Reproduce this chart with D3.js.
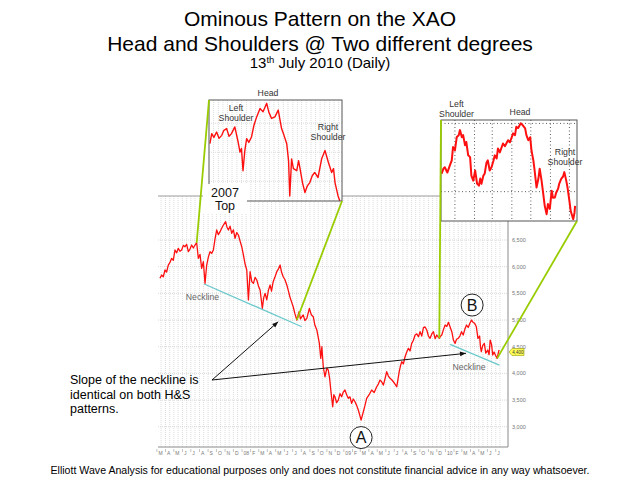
<!DOCTYPE html>
<html>
<head>
<meta charset="utf-8">
<script src="https://cdn.jsdelivr.net/npm/d3@7"></script>
<style>
    body { margin: 0; background: #fff; }
    svg { display: block; font-family: "Liberation Sans", Arial, sans-serif; }
</style>
</head>
<body>
<svg id="chart" width="640" height="482"></svg>
<script>
// XAO daily close
const mainSeries = [
    ["2007-03-12",5782],["2007-03-18",5844],["2007-03-24",5810],["2007-03-30",5938],["2007-04-05",5900],["2007-04-11",6031],
    ["2007-04-17",6080],["2007-04-23",6157],["2007-04-29",6120],["2007-05-05",6313],["2007-05-11",6260],["2007-05-17",6344],
    ["2007-05-23",6290],["2007-05-29",6313],["2007-06-04",6400],["2007-06-10",6374],["2007-06-16",6420],["2007-06-22",6281],
    ["2007-06-28",6330],["2007-07-04",6406],["2007-07-10",6350],["2007-07-16",6406],["2007-07-22",6449],["2007-07-28",6157],
    ["2007-08-03",6230],["2007-08-09",5969],["2007-08-15",6093],["2007-08-21",5688],["2007-08-27",6031],["2007-09-02",6180],
    ["2007-09-08",6281],["2007-09-14",6250],["2007-09-20",6313],["2007-09-26",6520],["2007-10-02",6688],["2007-10-08",6600],
    ["2007-10-14",6656],["2007-10-20",6720],["2007-10-26",6781],["2007-11-03",6843],["2007-11-08",6740],["2007-11-13",6688],
    ["2007-11-19",6760],["2007-11-25",6625],["2007-12-01",6690],["2007-12-07",6532],["2007-12-13",6640],["2007-12-19",6594],
    ["2007-12-25",6480],["2007-12-31",6374],["2008-01-06",6219],["2008-01-12",6050],["2008-01-18",5938],["2008-01-24",5375],
    ["2008-01-30",5906],["2008-02-05",5720],["2008-02-11",5688],["2008-02-17",5800],["2008-02-23",5750],["2008-02-29",5640],
    ["2008-03-06",5563],["2008-03-14",5219],["2008-03-19",5420],["2008-03-24",5500],["2008-03-30",5380],["2008-04-05",5560],
    ["2008-04-11",5656],["2008-04-16",5540],["2008-04-22",5718],["2008-04-28",5800],["2008-05-05",5906],["2008-05-11",5960],
    ["2008-05-17",6031],["2008-05-22",5900],["2008-05-28",5812],["2008-06-03",5760],["2008-06-10",5656],["2008-06-15",5560],
    ["2008-06-21",5437],["2008-06-27",5340],["2008-07-03",5249],["2008-07-09",5120],["2008-07-16",5000],["2008-07-24",5156],
    ["2008-07-29",5020],["2008-08-03",5062],["2008-08-08",5094],["2008-08-14",4990],["2008-08-21",5032],["2008-08-30",5219],
    ["2008-09-06",5100],["2008-09-13",5062],["2008-09-19",4900],["2008-09-26",4813],["2008-10-05",4563],["2008-10-10",4282],
    ["2008-10-14",4500],["2008-10-19",4124],["2008-10-25",3937],["2008-11-01",4100],["2008-11-06",4063],["2008-11-11",3900],
    ["2008-11-15",3688],["2008-11-22",3374],["2008-11-26",3600],["2008-11-30",3562],["2008-12-06",3450],["2008-12-12",3500],
    ["2008-12-18",3620],["2008-12-24",3562],["2008-12-30",3650],["2009-01-05",3688],["2009-01-11",3600],["2009-01-17",3532],
    ["2009-01-23",3560],["2009-01-29",3438],["2009-02-04",3520],["2009-02-10",3468],["2009-02-16",3400],["2009-02-22",3313],
    ["2009-03-04",3125],["2009-03-12",3281],["2009-03-18",3400],["2009-03-24",3532],["2009-04-02",3600],["2009-04-11",3688],
    ["2009-04-20",3640],["2009-04-29",3749],["2009-05-05",3800],["2009-05-11",3875],["2009-05-17",3840],["2009-05-23",3781],
    ["2009-05-29",3900],["2009-06-04",4031],["2009-06-10",3950],["2009-06-16",3907],["2009-06-22",3880],["2009-06-28",3843],
    ["2009-07-04",3800],["2009-07-10",3749],["2009-07-15",3900],["2009-07-19",4031],["2009-07-24",4150],["2009-07-28",4218],
    ["2009-08-03",4180],["2009-08-09",4312],["2009-08-15",4400],["2009-08-21",4469],["2009-08-27",4420],["2009-09-02",4563],
    ["2009-09-08",4620],["2009-09-14",4719],["2009-09-20",4740],["2009-09-26",4687],["2009-10-02",4781],["2009-10-08",4700],
    ["2009-10-14",4856],["2009-10-20",4870],["2009-10-26",4813],["2009-11-01",4700],["2009-11-07",4657],["2009-11-13",4740],
    ["2009-11-19",4781],["2009-11-25",4650],["2009-12-01",4719],["2009-12-05",4690],["2009-12-10",4657],["2009-12-15",4700],
    ["2009-12-19",4719],["2009-12-25",4820],["2009-12-31",4906],["2010-01-06",4880],["2010-01-12",4957],["2010-01-18",4870],
    ["2010-01-24",4781],["2010-01-30",4620],["2010-02-05",4563],["2010-02-10",4640],["2010-02-16",4657],["2010-02-22",4700],
    ["2010-02-28",4781],["2010-03-06",4720],["2010-03-12",4830],["2010-03-18",4906],["2010-03-24",4860],["2010-03-30",4940],
    ["2010-04-05",5000],["2010-04-10",4960],["2010-04-16",4938],["2010-04-22",4880],["2010-04-28",4657],["2010-05-04",4700],
    ["2010-05-07",4500],["2010-05-10",4406],["2010-05-15",4520],["2010-05-21",4563],["2010-05-26",4380],["2010-06-02",4438],
    ["2010-06-07",4350],["2010-06-11",4625],["2010-06-16",4540],["2010-06-20",4344],["2010-06-25",4400],["2010-06-30",4340],
    ["2010-07-06",4282],["2010-07-10",4380],["2010-07-13",4438]
];

// 2007 top, zoomed (upper left inset)
const topInsetSeries = [
    ["2007-05-04",6147],["2007-05-10",6321],["2007-05-17",6256],["2007-05-26",6348],["2007-06-03",6239],["2007-06-12",6291],
    ["2007-06-19",6378],["2007-06-28",6408],["2007-07-06",6274],["2007-07-14",6321],["2007-07-25",6437],["2007-08-05",6176],
    ["2007-08-11",6002],["2007-08-16",6065],["2007-08-21",5682],["2007-08-27",6030],["2007-09-02",6234],["2007-09-09",6169],
    ["2007-09-18",6263],["2007-09-26",6465],["2007-10-05",6609],["2007-10-16",6755],["2007-10-26",6696],["2007-11-07",6843],
    ["2007-11-14",6691],["2007-11-23",6582],["2007-12-04",6609],["2007-12-15",6726],["2007-12-26",6408],["2008-01-03",6291],
    ["2008-01-12",6147],["2008-01-18",5856],["2008-01-22",5247],["2008-01-28",5886],["2008-02-03",5717],["2008-02-14",5682],
    ["2008-02-20",5856],["2008-02-25",5712],["2008-03-04",5473],["2008-03-12",5306],["2008-03-20",5421],["2008-03-28",5478],
    ["2008-04-05",5595],["2008-04-13",5652],["2008-04-24",5565],["2008-05-06",5886],["2008-05-17",6030],["2008-05-28",5828],
    ["2008-06-08",5652],["2008-06-14",5717],["2008-06-19",5478],["2008-06-29",5247],["2008-07-05",5160]
];

// 2010 pattern, zoomed (upper right inset)
const recentInsetSeries = [
    ["2009-12-11",4631],["2009-12-14",4670],["2009-12-16",4679],["2009-12-20",4640],["2009-12-24",4692],["2009-12-27",4729],
    ["2009-12-29",4827],["2010-01-01",4803],["2010-01-04",4901],["2010-01-07",4914],["2010-01-09",4951],["2010-01-12",4899],
    ["2010-01-14",4914],["2010-01-17",4840],["2010-01-19",4864],["2010-01-22",4766],["2010-01-25",4753],["2010-01-27",4618],
    ["2010-01-30",4581],["2010-02-02",4655],["2010-02-05",4559],["2010-02-08",4544],["2010-02-10",4596],["2010-02-12",4557],
    ["2010-02-15",4618],["2010-02-17",4631],["2010-02-20",4714],["2010-02-22",4729],["2010-02-25",4655],["2010-02-28",4680],
    ["2010-03-03",4729],["2010-03-05",4766],["2010-03-08",4744],["2010-03-10",4816],["2010-03-13",4788],["2010-03-18",4853],
    ["2010-03-21",4833],["2010-03-26",4877],["2010-03-29",4862],["2010-04-03",4927],["2010-04-06",4914],["2010-04-08",4975],
    ["2010-04-11",4966],["2010-04-15",5001],["2010-04-18",4988],["2010-04-22",4964],["2010-04-24",4914],["2010-04-27",4877],
    ["2010-04-30",4899],["2010-05-02",4803],["2010-05-05",4729],["2010-05-07",4655],["2010-05-10",4531],["2010-05-13",4596],
    ["2010-05-15",4668],["2010-05-18",4581],["2010-05-20",4507],["2010-05-23",4396],["2010-05-26",4335],["2010-05-28",4409],
    ["2010-05-31",4374],["2010-06-03",4507],["2010-06-05",4455],["2010-06-08",4457],["2010-06-10",4492],["2010-06-13",4520],
    ["2010-06-15",4559],["2010-06-18",4594],["2010-06-21",4611],["2010-06-23",4643],["2010-06-26",4581],["2010-06-28",4531],
    ["2010-07-01",4433],["2010-07-03",4359],["2010-07-05",4329],["2010-07-07",4298],["2010-07-09",4344],["2010-07-10",4396]
];

const priceTicks = [3000, 3500, 4000, 4500, 5000, 5500, 6000, 6500];
const topInsetTicks = [5500, 6000, 6500];
const recentInsetTicks = [4500, 5000];
const lastPrice = 4400;

// neckline end points [date, value]
const necklines = [
    [["2007-08-18", 5675], ["2008-08-03", 4874]],
    [["2010-01-18", 4544], ["2010-07-14", 4156]]
];
// green links: inset corner -> date on the main line
const insetLinks = ["2007-07-22", "2008-07-16", "2009-12-10", "2010-07-06"];
const arrowTargets = [["2008-05-10", 4968], ["2010-03-16", 4376]];
const necklineLabels = [["2007-08-12", 5375], ["2010-03-27", 4072]];
const waveLabels = [["A", "2009-03-04", 2797], ["B", "2010-04-07", 5281]];

const titleLines = ["Ominous Pattern on the XAO", "Head and Shoulders @ Two different degrees"];
const slopeNote = ["Slope of the neckline is", "identical on both H&S", "patterns."];
const footerText = "Elliott Wave Analysis for educational purposes only and does not constitute financial advice in any way whatsoever.";

const parseDate = d3.timeParse("%Y-%m-%d");
const toPoints = s => s.map(([d, v]) => ({date: parseDate(d), value: v}));
const mainPoints = toPoints(mainSeries);

const svg = d3.select("#chart");
const plot = {left: 158, right: 508, top: 196, bottom: 447};

const x = d3.scaleTime()
    .domain([parseDate("2007-03-05"), parseDate("2010-08-14")])
    .range([plot.left, plot.right]);
const y = d3.scaleLinear()
    .domain([2620, 7325])
    .range([plot.bottom, plot.top]);

const months = d3.timeMonth.range(parseDate("2007-03-01"), parseDate("2010-08-01"));
const halfMonths = months.flatMap(m => [m, d3.timeDay.offset(m, 15)]);
const lineColor = "#ff1010";
const green = "#99cc00";

const defs = svg.append("defs");
defs.append("marker")
    .attr("id", "arrow")
    .attr("viewBox", "0 0 10 10")
    .attr("refX", 10)
    .attr("refY", 5)
    .attr("markerWidth", 7)
    .attr("markerHeight", 6)
    .attr("orient", "auto")
    .append("path")
    .attr("d", "M0,1L10,5L0,9z")
    .attr("fill", "#111");

// ---- main panel ----
const main = svg.append("g");

main.selectAll(".vgrid")
    .data(halfMonths.filter(d => x(d) > plot.left && x(d) < plot.right))
    .enter()
    .append("line")
    .attr("x1", d => x(d))
    .attr("x2", d => x(d))
    .attr("y1", plot.top)
    .attr("y2", plot.bottom)
    .attr("stroke", "#cfcfcf")
    .attr("stroke-width", 0.7)
    .style("stroke-dasharray", "1,1");

main.selectAll(".hgrid")
    .data(priceTicks)
    .enter()
    .append("line")
    .attr("x1", plot.left)
    .attr("x2", plot.right)
    .attr("y1", d => y(d))
    .attr("y2", d => y(d))
    .attr("stroke", "#c8c8c8")
    .attr("stroke-width", 0.7)
    .style("stroke-dasharray", "1,1");

main.append("line")
    .attr("x1", plot.left).attr("x2", plot.right)
    .attr("y1", plot.top).attr("y2", plot.top)
    .attr("stroke", "#9a9a9a");
main.append("line")
    .attr("x1", plot.left).attr("x2", plot.right)
    .attr("y1", plot.bottom).attr("y2", plot.bottom)
    .attr("stroke", "#8a8a8a");
main.append("line")
    .attr("x1", plot.right).attr("x2", plot.right)
    .attr("y1", plot.top).attr("y2", plot.bottom)
    .attr("stroke", "#8a8a8a");

const monthLabel = d => d.getMonth() === 0 ? d3.timeFormat("%y")(d) : d3.timeFormat("%b")(d)[0];
const xTicks = main.selectAll(".xtick")
    .data(months)
    .enter()
    .append("g")
    .attr("transform", d => "translate(" + x(d) + "," + plot.bottom + ")");
xTicks.append("line")
    .attr("y1", 2).attr("y2", 5)
    .attr("stroke", "#999")
    .attr("stroke-width", 0.6);
xTicks.append("text")
    .text(monthLabel)
    .attr("x", 1.5)
    .attr("y", 8)
    .attr("font-size", 5)
    .attr("fill", "#777");

main.selectAll(".ylabel")
    .data(priceTicks)
    .enter()
    .append("text")
    .text(d => d3.format(",")(d))
    .attr("x", plot.right + 4)
    .attr("y", d => y(d))
    .attr("dy", "0.35em")
    .attr("font-size", 5.5)
    .attr("fill", "#777");

defs.append("clipPath").attr("id", "mainClip")
    .append("rect")
    .attr("x", plot.left).attr("y", plot.top)
    .attr("width", plot.right - plot.left).attr("height", plot.bottom - plot.top);

const priceLine = d3.line()
    .x(d => x(d.date))
    .y(d => y(d.value));

main.append("path")
    .datum(mainPoints)
    .attr("d", priceLine)
    .attr("clip-path", "url(#mainClip)")
    .attr("fill", "none")
    .attr("stroke", lineColor)
    .attr("stroke-width", 1.3)
    .attr("stroke-linejoin", "round");

necklines.forEach(pair => {
    const p = toPoints(pair);
    main.append("line")
        .attr("x1", x(p[0].date)).attr("y1", y(p[0].value))
        .attr("x2", x(p[1].date)).attr("y2", y(p[1].value))
        .attr("stroke", "#6cc9cc")
        .attr("stroke-width", 1.3);
});

toPoints(necklineLabels).forEach(p => {
    main.append("text")
        .text("Neckline")
        .attr("x", x(p.date))
        .attr("y", y(p.value))
        .attr("text-anchor", "middle")
        .attr("font-size", 8.7)
        .attr("fill", "#666");
});

// last price tag
const tagY = y(lastPrice);
main.append("path")
    .attr("d", "M" + (plot.right + 1) + "," + tagY + "l3,-3.5h12v7h-12z")
    .attr("fill", "#ffff55")
    .attr("stroke", "#9a9a00")
    .attr("stroke-width", 0.6);
main.append("text")
    .text(d3.format(",")(lastPrice))
    .attr("x", plot.right + 10)
    .attr("y", tagY)
    .attr("dy", "0.35em")
    .attr("text-anchor", "middle")
    .attr("font-size", 4.5)
    .attr("fill", "#333");

// ---- insets ----
function drawInset(box, series, xDomain, yDomain, ticks, gridDates, gridColor, gridDash, width, id) {
    const g = svg.append("g");
    const ix = d3.scaleTime().domain(xDomain.map(parseDate)).range([box.x, box.x + box.w]);
    const iy = d3.scaleLinear().domain(yDomain).range([box.y + box.h, box.y]);

    g.append("rect")
        .attr("x", box.x).attr("y", box.y)
        .attr("width", box.w).attr("height", box.h)
        .attr("fill", "#fff");

    g.selectAll(".ivgrid")
        .data(gridDates.filter(d => ix(d) > box.x + 1 && ix(d) < box.x + box.w - 1))
        .enter()
        .append("line")
        .attr("x1", d => ix(d)).attr("x2", d => ix(d))
        .attr("y1", box.y).attr("y2", box.y + box.h)
        .attr("stroke", gridColor)
        .attr("stroke-width", 0.8)
        .style("stroke-dasharray", gridDash);

    g.selectAll(".ihgrid")
        .data(ticks)
        .enter()
        .append("line")
        .attr("x1", box.x).attr("x2", box.x + box.w)
        .attr("y1", d => iy(d)).attr("y2", d => iy(d))
        .attr("stroke", gridColor)
        .attr("stroke-width", 0.8)
        .style("stroke-dasharray", gridDash);

    defs.append("clipPath").attr("id", id)
        .append("rect")
        .attr("x", box.x).attr("y", box.y)
        .attr("width", box.w).attr("height", box.h);

    g.append("path")
        .datum(toPoints(series))
        .attr("d", d3.line().x(d => ix(d.date)).y(d => iy(d.value)))
        .attr("clip-path", "url(#" + id + ")")
        .attr("fill", "none")
        .attr("stroke", lineColor)
        .attr("stroke-width", width)
        .attr("stroke-linejoin", "round");

    g.append("rect")
        .attr("x", box.x).attr("y", box.y)
        .attr("width", box.w).attr("height", box.h)
        .attr("fill", "none")
        .attr("stroke", "#555")
        .attr("stroke-width", 1);
    return g;
}

const topBox = {x: 209, y: 100, w: 133, h: 101};
const recentBox = {x: 441, y: 120, w: 136, h: 101};

drawInset(topBox, topInsetSeries, ["2007-05-01", "2008-07-12"], [5160, 6900], topInsetTicks,
    halfMonths, "#d4d4d4", "1,1", 1.4, "topClip");
drawInset(recentBox, recentInsetSeries, ["2009-12-10", "2010-07-13"], [4285, 5025], recentInsetTicks,
    months, "#333", "1,2.5", 2, "recentClip");

function label(lines, cx, baseline, size, color) {
    lines.forEach((t, i) => {
        svg.append("text")
            .text(t)
            .attr("x", cx)
            .attr("y", baseline + i * 10)
            .attr("text-anchor", "middle")
            .attr("font-size", size)
            .attr("fill", color);
    });
}
label(["Head"], 268, 96, 8.7, "#333");
label(["Left", "Shoulder"], 236, 111, 8.7, "#333");
label(["Right", "Shoulder"], 328, 130, 8.7, "#333");
label(["Left", "Shoulder"], 456.5, 106.5, 8.7, "#333");
label(["Head"], 520, 114.5, 8.7, "#333");
label(["Right", "Shoulder"], 565, 154.5, 8.7, "#333");

// 2007 top box
svg.append("rect")
    .attr("x", 203).attr("y", 184)
    .attr("width", 44).attr("height", 30)
    .attr("fill", "#fff");
label(["2007"], 225, 196.5, 12.5, "#111");
svg.append("text").text("Top")
    .attr("x", 225).attr("y", 209.5)
    .attr("text-anchor", "middle")
    .attr("font-size", 12.5)
    .attr("fill", "#111");

// green links from insets to the main line
const linkPoint = d => {
    const p = mainPoints.find(m => +m.date === +parseDate(d));
    return [x(p.date), y(p.value)];
};
const insetCorners = [
    [topBox.x, topBox.y],
    [topBox.x + topBox.w, topBox.y + topBox.h],
    [recentBox.x, recentBox.y],
    [recentBox.x + recentBox.w, recentBox.y + recentBox.h]
];
insetLinks.forEach((d, i) => {
    const end = linkPoint(d);
    svg.append("line")
        .attr("x1", insetCorners[i][0]).attr("y1", insetCorners[i][1])
        .attr("x2", end[0]).attr("y2", end[1])
        .attr("stroke", green)
        .attr("stroke-width", 1.8);
});

// slope note with arrows
slopeNote.forEach((t, i) => {
    svg.append("text")
        .text(t)
        .attr("x", 70)
        .attr("y", 384 + i * 14.5)
        .attr("font-size", 12.5)
        .attr("fill", "#000");
});
toPoints(arrowTargets).forEach(p => {
    svg.append("line")
        .attr("x1", 212).attr("y1", 380)
        .attr("x2", x(p.date)).attr("y2", y(p.value))
        .attr("stroke", "#111")
        .attr("stroke-width", 1)
        .attr("marker-end", "url(#arrow)");
});

// wave labels A and B
waveLabels.forEach(([t, d, v]) => {
    const cx = x(parseDate(d)), cy = y(v);
    svg.append("circle")
        .attr("cx", cx).attr("cy", cy).attr("r", 11)
        .attr("fill", "#fff")
        .attr("stroke", "#222");
    svg.append("text")
        .text(t)
        .attr("x", cx).attr("y", cy)
        .attr("dy", "0.36em")
        .attr("text-anchor", "middle")
        .attr("font-size", 16)
        .attr("fill", "#111");
});

// titles
titleLines.forEach((t, i) => {
    svg.append("text")
        .text(t)
        .attr("x", 320)
        .attr("y", 26 + i * 24.5)
        .attr("text-anchor", "middle")
        .attr("font-size", 21)
        .attr("fill", "#000");
});
const sub = svg.append("text")
    .attr("x", 320)
    .attr("y", 68)
    .attr("text-anchor", "middle")
    .attr("font-size", 15)
    .attr("fill", "#000");
sub.append("tspan").text("13");
sub.append("tspan").text("th").attr("font-size", 9.5).attr("dy", -5);
sub.append("tspan").text(" July 2010 (Daily)").attr("dy", 5);

svg.append("text")
    .text(footerText)
    .attr("x", 320)
    .attr("y", 474)
    .attr("text-anchor", "middle")
    .attr("font-size", 10.6)
    .attr("fill", "#000");
</script>
</body>
</html>
